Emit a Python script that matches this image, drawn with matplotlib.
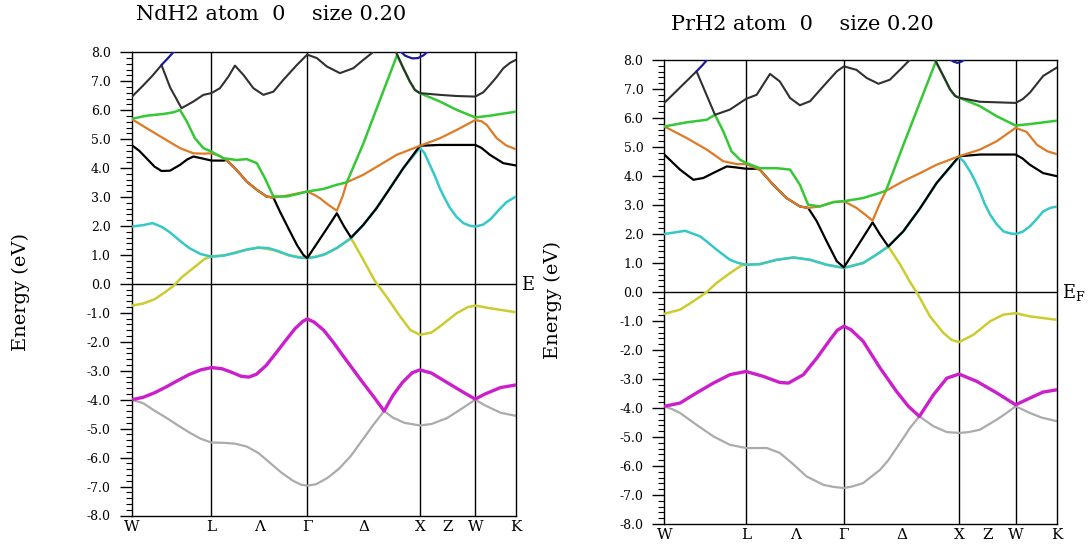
import numpy as np
import matplotlib
matplotlib.use("Agg")
import matplotlib.pyplot as plt
from matplotlib.ticker import MultipleLocator
import matplotlib.transforms as mtransforms

plt.rcParams['font.family'] = ['DejaVu Serif']
plt.rcParams['mathtext.fontset'] = 'dejavuserif'

# ---------------- data ----------------
# k-path positions (fraction of path length)
sym_pos = [0.208, 0.457, 0.750, 0.894]
tick_pos = [0.0, 0.208, 0.333, 0.457, 0.604, 0.750, 0.822, 0.894, 1.0]
tick_labels = ['W', 'L', 'Λ', 'Γ', 'Δ', 'X', 'Z', 'W', 'K']
y_major = list(range(-8, 9))
y_labels = [f"{v:.1f}" for v in y_major]

titles = ['NdH2 atom  0    size 0.20', 'PrH2 atom  0    size 0.20']

nan = float('nan')

# ---- NdH2 bands: (k, E) ----
nd_b1 = [(0.000, -4.00), (0.030, -4.12), (0.060, -4.38), (0.090, -4.62), (0.120, -4.88), (0.150, -5.13),
         (0.180, -5.35), (0.208, -5.48), (0.240, -5.49), (0.270, -5.52), (0.300, -5.62), (0.330, -5.84),
         (0.360, -6.18), (0.390, -6.52), (0.420, -6.80), (0.440, -6.93), (0.457, -6.97), (0.480, -6.92),
         (0.510, -6.70), (0.540, -6.38), (0.570, -5.95), (0.600, -5.40), (0.630, -4.85), (0.657, -4.39),
         (0.680, -4.62), (0.710, -4.80), (0.750, -4.89), (0.780, -4.84), (0.820, -4.64), (0.860, -4.30),
         (0.894, -4.00), (0.920, -4.20), (0.960, -4.45), (1.000, -4.56)]
nd_b2 = [(0.000, -4.00), (0.030, -3.92), (0.060, -3.76), (0.090, -3.56), (0.120, -3.34), (0.150, -3.13),
         (0.180, -2.97), (0.208, -2.89), (0.235, -2.93), (0.260, -3.05), (0.285, -3.19), (0.305, -3.22),
         (0.325, -3.12), (0.350, -2.82), (0.375, -2.40), (0.400, -1.97), (0.425, -1.55), (0.445, -1.30),
         (0.457, -1.21), (0.475, -1.32), (0.500, -1.60), (0.525, -2.02), (0.550, -2.48), (0.575, -2.93),
         (0.600, -3.38), (0.630, -3.90), (0.657, -4.39), (0.680, -3.85), (0.705, -3.40), (0.730, -3.07),
         (0.750, -2.97), (0.780, -3.08), (0.820, -3.40), (0.860, -3.72), (0.894, -3.98), (0.920, -3.80),
         (0.960, -3.58), (1.000, -3.49)]
nd_b3 = [(0.000, -0.75), (0.030, -0.68), (0.060, -0.53), (0.090, -0.26), (0.110, -0.06), (0.130, 0.22),
         (0.160, 0.54), (0.190, 0.86), (0.208, 0.95), (0.240, 0.98), (0.280, 1.12), (0.330, 1.26),
         (0.370, 1.17), (0.410, 0.98), (0.457, 0.89), (0.500, 1.00), (0.535, 1.24), (0.571, 1.58),
         (0.600, 0.90), (0.633, 0.10), (0.663, -0.44), (0.699, -1.13), (0.725, -1.59), (0.750, -1.76),
         (0.780, -1.68), (0.802, -1.47), (0.846, -1.01), (0.875, -0.80), (0.894, -0.75), (0.932, -0.84),
         (1.000, -0.98)]
nd_b4 = [(0.000, 1.98), (0.030, 2.03), (0.055, 2.10), (0.080, 1.96), (0.100, 1.78), (0.125, 1.50),
         (0.150, 1.24), (0.180, 1.03), (0.208, 0.94), (0.240, 0.98), (0.270, 1.07), (0.300, 1.19),
         (0.330, 1.25), (0.355, 1.24), (0.380, 1.14), (0.410, 0.99), (0.435, 0.91), (0.457, 0.89),
         (0.480, 0.93), (0.505, 1.04), (0.535, 1.25), (0.571, 1.58), (0.603, 2.04), (0.637, 2.61),
         (0.672, 3.30), (0.707, 4.00), (0.750, 4.70), (0.762, 4.52), (0.776, 4.11), (0.790, 3.70),
         (0.802, 3.30), (0.815, 2.95), (0.828, 2.63), (0.845, 2.32), (0.863, 2.10), (0.880, 2.01),
         (0.894, 1.98), (0.915, 2.05), (0.935, 2.25), (0.955, 2.55), (0.975, 2.82), (1.000, 3.02)]
nd_b5 = [(0.000, 4.80), (0.020, 4.60), (0.039, 4.34), (0.060, 4.05), (0.078, 3.90), (0.100, 3.91),
         (0.126, 4.11), (0.145, 4.30), (0.161, 4.40), (0.182, 4.34), (0.208, 4.26), (0.240, 4.26),
         (0.247, 4.28), (0.273, 3.94), (0.300, 3.53), (0.326, 3.25), (0.351, 3.02), (0.369, 2.98),
         (0.386, 2.50), (0.408, 1.92), (0.430, 1.35), (0.447, 1.00), (0.457, 0.89), (0.475, 1.25),
         (0.494, 1.63), (0.515, 2.05), (0.534, 2.44), (0.553, 1.98), (0.571, 1.60), (0.603, 2.04),
         (0.637, 2.61), (0.672, 3.30), (0.707, 4.00), (0.750, 4.77), (0.800, 4.80), (0.894, 4.80),
         (0.910, 4.70), (0.932, 4.46), (0.967, 4.17), (1.000, 4.09)]
nd_b6 = [(0.000, 5.70), (0.039, 5.38), (0.083, 5.03), (0.126, 4.69), (0.161, 4.51), (0.185, 4.50),
         (0.208, 4.51), (0.230, 4.42), (0.247, 4.28), (0.273, 3.94), (0.300, 3.53), (0.326, 3.25),
         (0.351, 3.02), (0.369, 2.98), (0.404, 3.05), (0.430, 3.12), (0.457, 3.19), (0.475, 3.08),
         (0.490, 2.96), (0.512, 2.73), (0.534, 2.53), (0.549, 3.02), (0.560, 3.51), (0.603, 3.77),
         (0.646, 4.11), (0.690, 4.46), (0.750, 4.77), (0.802, 5.03), (0.846, 5.32), (0.894, 5.66),
         (0.910, 5.62), (0.924, 5.49), (0.950, 5.03), (0.975, 4.78), (1.000, 4.65)]
nd_b7 = [(0.000, 5.70), (0.039, 5.81), (0.083, 5.87), (0.110, 5.93), (0.126, 6.01), (0.144, 5.61),
         (0.165, 5.03), (0.187, 4.69), (0.208, 4.57), (0.239, 4.34), (0.273, 4.28), (0.300, 4.31),
         (0.326, 4.17), (0.347, 3.65), (0.369, 3.02), (0.404, 3.02), (0.430, 3.10), (0.457, 3.19),
         (0.499, 3.28), (0.533, 3.42), (0.560, 3.51), (0.603, 4.85), (0.646, 6.35), (0.691, 7.91),
         (0.707, 7.45), (0.724, 6.99), (0.737, 6.70), (0.750, 6.59), (0.802, 6.30), (0.846, 6.01),
         (0.894, 5.75), (0.932, 5.81), (1.000, 5.95)]
nd_b8 = [(0.000, 6.45), (0.030, 6.85), (0.055, 7.20), (0.078, 7.56), (0.100, 6.80), (0.130, 6.07),
         (0.145, 6.18), (0.161, 6.30), (0.187, 6.53), (0.208, 6.59), (0.230, 6.76), (0.252, 7.16),
         (0.269, 7.54), (0.291, 7.22), (0.317, 6.76), (0.343, 6.53), (0.369, 6.64), (0.395, 7.05),
         (0.430, 7.56), (0.457, 7.92), (0.482, 7.80), (0.508, 7.51), (0.542, 7.28), (0.577, 7.45),
         (0.603, 7.74), (0.625, 7.97), (0.632, 8.10), (nan, nan), (0.686, 8.05), (0.691, 7.91),
         (0.707, 7.45), (0.724, 6.99), (0.737, 6.70), (0.750, 6.59), (0.802, 6.53), (0.846, 6.49),
         (0.894, 6.47), (0.915, 6.62), (0.932, 6.87), (0.950, 7.15), (0.967, 7.45), (0.985, 7.64),
         (1.000, 7.74)]
nd_b9 = [(0.078, 7.56), (0.095, 7.80), (0.112, 8.05), (nan, nan), (0.698, 8.05), (0.712, 7.88),
         (0.730, 7.79), (0.745, 7.80), (0.760, 7.90), (0.772, 8.05)]

# ---- PrH2 bands: (k, E) ----
pr_b1 = [(0.000, -3.94), (0.020, -4.04), (0.040, -4.17), (0.082, -4.58), (0.125, -4.98), (0.167, -5.27),
         (0.208, -5.38), (0.261, -5.38), (0.294, -5.55), (0.329, -5.95), (0.362, -6.36), (0.405, -6.65),
         (0.430, -6.72), (0.457, -6.76), (0.480, -6.70), (0.506, -6.59), (0.549, -6.13), (0.570, -5.80),
         (0.591, -5.38), (0.610, -5.00), (0.625, -4.69), (0.649, -4.29), (0.685, -4.63), (0.719, -4.83),
         (0.750, -4.86), (0.775, -4.83), (0.803, -4.75), (0.846, -4.40), (0.870, -4.18), (0.894, -3.94),
         (0.930, -4.17), (0.960, -4.33), (1.000, -4.46)]
pr_b2 = [(0.000, -3.94), (0.040, -3.83), (0.082, -3.48), (0.125, -3.14), (0.167, -2.85), (0.208, -2.74),
         (0.252, -2.91), (0.294, -3.12), (0.316, -3.14), (0.354, -2.85), (0.388, -2.28), (0.422, -1.64),
         (0.440, -1.32), (0.457, -1.18), (0.475, -1.30), (0.506, -1.70), (0.549, -2.62), (0.591, -3.43),
         (0.621, -3.94), (0.649, -4.29), (0.685, -3.54), (0.719, -2.97), (0.750, -2.83), (0.795, -3.08),
         (0.846, -3.48), (0.894, -3.89), (0.930, -3.66), (0.964, -3.45), (1.000, -3.37)]
pr_b3 = [(0.000, -0.75), (0.040, -0.61), (0.074, -0.32), (0.108, 0.00), (0.133, 0.31), (0.167, 0.65),
         (0.197, 0.92), (0.208, 0.94), (0.243, 0.96), (0.286, 1.11), (0.329, 1.19), (0.371, 1.11),
         (0.413, 0.94), (0.457, 0.83), (0.506, 1.00), (0.540, 1.29), (0.570, 1.57), (0.600, 0.95),
         (0.625, 0.35), (0.646, -0.10), (0.676, -0.84), (0.710, -1.41), (0.731, -1.65), (0.750, -1.73),
         (0.787, -1.47), (0.829, -1.01), (0.863, -0.78), (0.894, -0.73), (0.930, -0.84), (1.000, -0.96)]
pr_b4 = [(0.000, 2.00), (0.025, 2.05), (0.053, 2.11), (0.091, 1.92), (0.110, 1.72), (0.133, 1.46),
         (0.167, 1.11), (0.188, 1.00), (0.208, 0.94), (0.243, 0.96), (0.286, 1.11), (0.329, 1.19),
         (0.371, 1.11), (0.413, 0.94), (0.457, 0.83), (0.506, 1.00), (0.540, 1.29), (0.570, 1.57),
         (0.608, 2.09), (0.651, 2.89), (0.693, 3.76), (0.750, 4.65), (0.762, 4.50), (0.778, 4.16),
         (0.790, 3.85), (0.803, 3.47), (0.815, 3.05), (0.829, 2.67), (0.845, 2.35), (0.863, 2.09),
         (0.880, 2.02), (0.894, 2.00), (0.912, 2.08), (0.930, 2.26), (0.948, 2.52), (0.964, 2.78),
         (0.982, 2.90), (1.000, 2.95)]
pr_b5 = [(0.000, 4.74), (0.040, 4.22), (0.074, 3.87), (0.099, 3.93), (0.133, 4.16), (0.159, 4.33),
         (0.180, 4.30), (0.208, 4.25), (0.235, 4.25), (0.243, 4.22), (0.277, 3.70), (0.311, 3.24),
         (0.345, 2.95), (0.366, 2.90), (0.388, 2.44), (0.413, 1.75), (0.439, 1.06), (0.457, 0.85),
         (0.494, 1.63), (0.530, 2.40), (0.549, 1.98), (0.570, 1.57), (0.608, 2.09), (0.651, 2.89),
         (0.693, 3.76), (0.750, 4.68), (0.803, 4.74), (0.894, 4.74), (0.912, 4.60), (0.930, 4.39),
         (0.964, 4.10), (1.000, 3.99)]
pr_b6 = [(0.000, 5.71), (0.057, 5.31), (0.108, 4.91), (0.150, 4.51), (0.184, 4.41), (0.208, 4.41),
         (0.243, 4.22), (0.277, 3.70), (0.311, 3.24), (0.345, 2.95), (0.366, 2.90), (0.396, 2.95),
         (0.430, 3.10), (0.457, 3.13), (0.489, 2.90), (0.511, 2.67), (0.530, 2.46), (0.549, 3.07),
         (0.564, 3.49), (0.608, 3.82), (0.651, 4.10), (0.693, 4.39), (0.750, 4.68), (0.803, 4.91),
         (0.846, 5.20), (0.894, 5.66), (0.922, 5.52), (0.948, 5.08), (0.975, 4.85), (1.000, 4.75)]
pr_b7 = [(0.000, 5.71), (0.057, 5.85), (0.108, 5.94), (0.129, 6.11), (0.150, 5.54), (0.171, 4.85),
         (0.193, 4.56), (0.208, 4.45), (0.243, 4.27), (0.286, 4.27), (0.320, 4.22), (0.345, 3.70),
         (0.366, 3.01), (0.396, 2.95), (0.430, 3.10), (0.457, 3.13), (0.506, 3.24), (0.540, 3.38),
         (0.564, 3.49), (0.608, 5.06), (0.651, 6.56), (0.691, 7.95), (0.710, 7.45), (0.727, 6.99),
         (0.740, 6.76), (0.750, 6.70), (0.803, 6.41), (0.846, 6.06), (0.894, 5.74), (0.930, 5.79),
         (1.000, 5.91)]
pr_b8 = [(0.000, 6.52), (0.082, 7.61), (0.129, 6.11), (0.167, 6.29), (0.208, 6.66), (0.235, 6.80),
         (0.269, 7.52), (0.294, 7.26), (0.320, 6.69), (0.345, 6.44), (0.371, 6.58), (0.405, 7.10),
         (0.439, 7.61), (0.457, 7.78), (0.489, 7.66), (0.515, 7.38), (0.545, 7.18), (0.574, 7.32),
         (0.604, 7.72), (0.625, 8.01), (0.632, 8.10), (nan, nan), (0.686, 8.05), (0.691, 7.95),
         (0.710, 7.45), (0.727, 6.99), (0.740, 6.76), (0.750, 6.70), (0.803, 6.56), (0.894, 6.52),
         (0.912, 6.65), (0.930, 6.87), (0.964, 7.45), (1.000, 7.75)]
pr_b9 = [(0.082, 7.61), (0.097, 7.82), (0.112, 8.05), (nan, nan), (0.725, 8.05), (0.735, 7.95),
         (0.746, 7.90), (0.757, 7.95), (0.767, 8.05)]

nd_bands = [nd_b1, nd_b2, nd_b3, nd_b4, nd_b5, nd_b6, nd_b7, nd_b8, nd_b9]
pr_bands = [pr_b1, pr_b2, pr_b3, pr_b4, pr_b5, pr_b6, pr_b7, pr_b8, pr_b9]

# ---------------- styles ----------------
band_colors = ['#ababab', '#cc1fcc', '#cccc30', '#35c8c8', '#000000', '#df7a25', '#35c835', '#303030', '#1a1a9a']
band_widths = [1.6, 2.4, 1.8, 1.8, 1.6, 1.6, 1.8, 1.5, 1.6]

fig = plt.figure(figsize=(10.9, 5.45), dpi=100)
W, H = 1090.0, 545.0
ax_boxes = [
    [131.5 / W, 1 - 515.5 / H, 384.5 / W, 463.2 / H],
    [664.3 / W, 1 - 524.0 / H, 393.0 / W, 464.0 / H],
]
title_xy = [(271, 15), (802, 24)]
ylabel_xy = [(21, 292), (553, 300)]
ef_labels = ['E', r'E$_{\mathrm{F}}$']

for i, bands in enumerate([nd_bands, pr_bands]):
    ax = fig.add_axes(ax_boxes[i])
    for j, band in enumerate(bands):
        arr = np.array(band, dtype=float)
        ax.plot(arr[:, 0], arr[:, 1], color=band_colors[j], lw=band_widths[j],
                solid_joinstyle='round', solid_capstyle='round', zorder=2 + j)
    for p in sym_pos:
        ax.axvline(p, color='black', lw=1.0, zorder=1)
    ax.axhline(0, color='black', lw=1.0, zorder=1)
    ax.set_xlim(0, 1)
    ax.set_ylim(-8, 8)
    ax.set_yticks(y_major)
    ax.set_yticklabels(y_labels, fontsize=9)
    ax.yaxis.set_minor_locator(MultipleLocator(0.2))
    ax.tick_params(axis='y', which='major', direction='out', length=9, width=1.0, pad=6)
    ax.tick_params(axis='y', which='minor', direction='out', length=4, width=0.8)
    ax.set_xticks(tick_pos)
    ax.set_xticklabels(tick_labels, fontsize=11)
    ax.tick_params(axis='x', length=0, pad=3)
    for s in ax.spines.values():
        s.set_linewidth(1.0)
    trans = mtransforms.blended_transform_factory(ax.transAxes, ax.transData)
    ax.text(1.012, -0.2, ef_labels[i], transform=trans, ha='left', va='baseline',
            fontsize=13, clip_on=False)
    fig.text(title_xy[i][0] / W, 1 - title_xy[i][1] / H, titles[i], ha='center', va='center', fontsize=15)
    fig.text(ylabel_xy[i][0] / W, 1 - ylabel_xy[i][1] / H, 'Energy (eV)', rotation=90,
             ha='center', va='center', fontsize=14)

fig.savefig('out.png', dpi=100, facecolor='white')
